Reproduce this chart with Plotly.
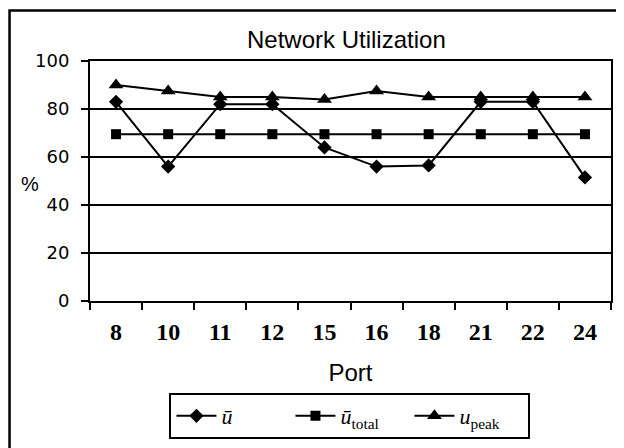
import plotly.graph_objects as go

ports = ["8", "10", "11", "12", "15", "16", "18", "21", "22", "24"]
u_mean = [83, 56, 82, 82, 64, 56, 56.5, 83, 83, 51.5]
u_total = [69.5, 69.5, 69.5, 69.5, 69.5, 69.5, 69.5, 69.5, 69.5, 69.5]
u_peak = [90, 87.5, 85, 85, 84, 87.5, 85, 85, 85, 85]
y_ticks = [0, 20, 40, 60, 80, 100]

# the page body adds an 8px offset; work in final-screen pixels and shift
OFF = 8
W, H = 624 - OFF, 448 - OFF
L, R, T, B = 89.6 - OFF, 611.5 - OFF, 61 - OFF, 301 - OFF


def px(x):
    return (x - OFF - L) / (R - L)


def py(y):
    return (B - (y - OFF)) / (B - T)


fig = go.Figure()
line = dict(color="black", width=2)
fig.add_trace(go.Scatter(x=ports, y=u_mean, mode="lines+markers", name="<i>u\u0304</i>",
                         line=line, marker=dict(symbol="diamond", size=11, color="black")))
fig.add_trace(go.Scatter(x=ports, y=u_total, mode="lines+markers", name="<i>u\u0304</i><sub>total</sub>",
                         line=line, marker=dict(symbol="square", size=10, color="black")))
fig.add_trace(go.Scatter(x=ports, y=u_peak, mode="lines+markers", name="<i>u</i><sub>peak</sub>",
                         line=line, marker=dict(symbol="triangle-up", size=13, color="black")))

fig.update_layout(
    width=W, height=H,
    margin=dict(l=L, r=W - R, t=T, b=H - B, pad=0, autoexpand=False),
    paper_bgcolor="white", plot_bgcolor="white",
    showlegend=True,
    legend=dict(orientation="h", x=px(350), xanchor="center", y=py(393), yanchor="top",
                bordercolor="black", borderwidth=2,
                font=dict(family="Liberation Serif", size=22, color="black"),
                itemwidth=40, tracegroupgap=0, entrywidth=64),
    xaxis=dict(type="category", categoryorder="array", categoryarray=ports, automargin=False,
               range=[-0.5, len(ports) - 0.5],
               tickson="boundaries", ticks="outside", ticklen=7, tickwidth=2, tickcolor="black",
               showline=True, linecolor="black", linewidth=2, mirror=True,
               showgrid=False, zeroline=False,
               tickfont=dict(family="Liberation Serif", size=24, color="black", weight="bold"),
               ticklabelstandoff=8,
               title=dict(text="Port", font=dict(family="Liberation Sans", size=24, color="black"),
                          standoff=20)),
    yaxis=dict(range=[0, 100], tickvals=y_ticks, ticks="outside", ticklen=7, tickwidth=2,
               automargin=False,
               tickcolor="black", showline=True, linecolor="black", linewidth=2, mirror=True,
               showgrid=True, gridcolor="black", gridwidth=2, zeroline=False,
               tickfont=dict(family="DejaVu Sans", size=18, color="black"),
               ticklabelstandoff=8),
    annotations=[
        dict(text="Network Utilization", xref="paper", yref="paper", x=px(347), y=py(39),
             xanchor="center", yanchor="middle", showarrow=False,
             font=dict(family="Liberation Sans", size=24, color="black")),
        dict(text="%", xref="paper", yref="paper", x=px(29), y=py(184),
             xanchor="center", yanchor="middle", showarrow=False,
             font=dict(family="Liberation Sans", size=20, color="black")),
    ],
    shapes=[
        dict(type="rect", xref="paper", yref="paper", x0=px(9), x1=px(621), y0=py(10.5), y1=py(470),
             line=dict(color="black", width=2.5), layer="below"),
    ],
)

fig.write_html("out.html")
